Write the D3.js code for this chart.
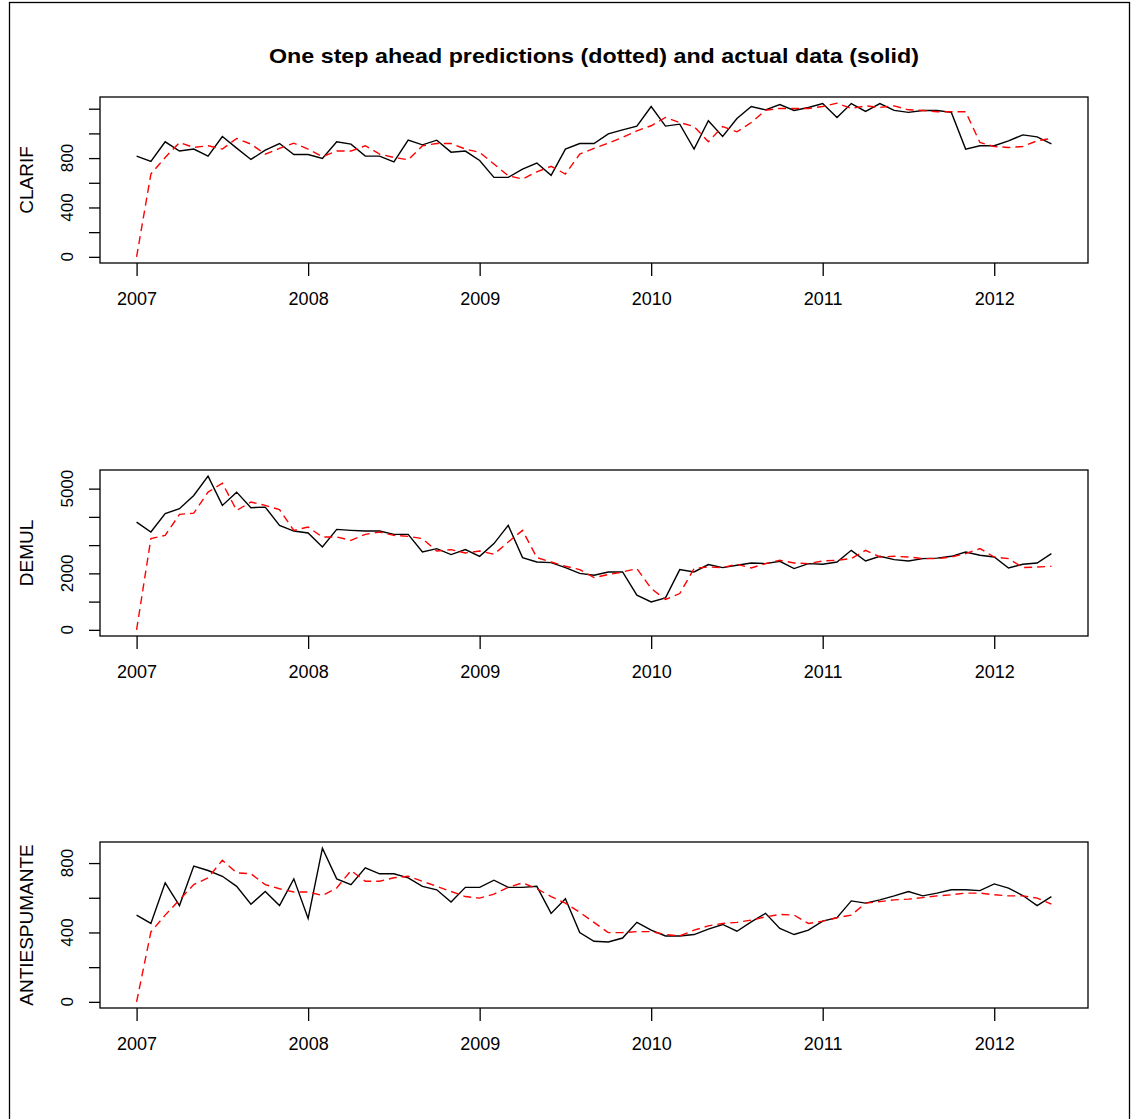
<!DOCTYPE html>
<html>
<head>
<meta charset="utf-8">
<script src="https://cdn.jsdelivr.net/npm/d3@7"></script>
<style>
  body { margin: 0; background: #fff; }
  svg text { font-family: "Liberation Sans", Arial, sans-serif; fill: #000; }
</style>
</head>
<body>
<div class="chart"></div>
<script>
// monthly series, Jan 2007 .. May 2012 (65 months)
var startYear = 2007;
var yearTicks = [2007, 2008, 2009, 2010, 2011, 2012];

var clarifActual = [816, 773, 932, 857, 873, 816, 975, 881, 789, 864, 918, 829,
    829, 797, 932, 913, 816, 816, 770, 945, 907, 945, 848, 857,
    781, 644, 644, 711, 760, 660, 873, 918, 918, 996, 1029, 1059,
    1218, 1059, 1075, 873, 1102, 975, 1121, 1218, 1191, 1234, 1186, 1210,
    1242, 1129, 1242, 1178, 1242, 1186, 1170, 1186, 1186, 1170, 873, 900,
    900, 940, 988, 972, 916];
var clarifPred = [0, 671, 805, 926, 886, 900, 873, 959, 913, 832, 878, 921,
    873, 811, 857, 857, 900, 832, 805, 786, 900, 918, 918, 873,
    846, 752, 657, 630, 689, 733, 671, 832, 878, 921, 967, 1021,
    1062, 1129, 1088, 1056, 932, 1056, 1013, 1088, 1188, 1202, 1202, 1202,
    1218, 1245, 1202, 1223, 1210, 1223, 1191, 1186, 1175, 1175, 1175, 926,
    894, 886, 894, 940, 959];
var clarifTicks = [0, 200, 400, 600, 800, 1000, 1200];
var clarifLabels = [0, 400, 800];

var demulActual = [3816, 3463, 4113, 4290, 4760, 5442, 4406, 4876, 4325, 4346, 3700, 3498,
    3428, 2933, 3558, 3523, 3498, 3498, 3382, 3382, 2756, 2876, 2664, 2841,
    2604, 3053, 3700, 2558, 2403, 2381, 2205, 2000, 1933, 2049, 2049, 1226,
    989, 1131, 2134, 2049, 2311, 2205, 2286, 2367, 2346, 2428, 2170, 2346,
    2322, 2403, 2816, 2438, 2604, 2488, 2438, 2523, 2540, 2604, 2756, 2640,
    2580, 2191, 2322, 2367, 2700];
var demulPred = [0, 3230, 3346, 4088, 4134, 4876, 5194, 4230, 4523, 4406, 4254, 3523,
    3640, 3286, 3286, 3170, 3382, 3463, 3346, 3311, 3230, 2792, 2841, 2721,
    2792, 2675, 3110, 3523, 2558, 2403, 2251, 2134, 1851, 1958, 2049, 2170,
    1463, 1074, 1286, 2170, 2226, 2205, 2322, 2191, 2346, 2463, 2367, 2346,
    2438, 2463, 2523, 2816, 2580, 2604, 2580, 2523, 2523, 2580, 2700, 2876,
    2580, 2523, 2205, 2226, 2251];
var demulTicks = [0, 1000, 2000, 3000, 4000, 5000];
var demulLabels = [0, 2000, 5000];

var antiActual = [500, 452, 686, 555, 783, 757, 724, 666, 563, 636, 555, 709,
    481, 886, 709, 676, 773, 738, 738, 715, 666, 646, 575, 660,
    660, 701, 660, 660, 666, 510, 594, 399, 349, 345, 368, 458,
    413, 380, 380, 388, 419, 446, 407, 461, 510, 423, 388, 413,
    465, 485, 582, 569, 588, 611, 636, 611, 627, 646, 646, 641,
    680, 656, 613, 555, 607];
var antiPred = [0, 403, 500, 588, 676, 715, 816, 744, 738, 676, 652, 633,
    633, 613, 656, 757, 695, 695, 715, 724, 695, 666, 636, 607,
    598, 621, 660, 686, 652, 607, 569, 516, 458, 399, 399, 405,
    405, 388, 380, 413, 438, 452, 458, 471, 490, 504, 500, 452,
    465, 485, 500, 569, 578, 588, 592, 601, 611, 617, 627, 627,
    617, 611, 611, 598, 563];
var antiTicks = [0, 200, 400, 600, 800];
var antiLabels = [0, 400, 800];

var panels = [
    {name: "CLARIF", actual: clarifActual, pred: clarifPred, ticks: clarifTicks, labels: clarifLabels},
    {name: "DEMUL", actual: demulActual, pred: demulPred, ticks: demulTicks, labels: demulLabels},
    {name: "ANTIESPUMANTE", actual: antiActual, pred: antiPred, ticks: antiTicks, labels: antiLabels}
];

var width = 1131, height = 1119;
var left = 100, right = 1088;
var panelTops = [97, 470, 842];
var panelHeight = 166;

var svg = d3.select("div.chart").append("svg")
    .attr("width", width)
    .attr("height", height);

// outer frame
svg.append("rect")
    .attr("x", 9.5).attr("y", 2.5)
    .attr("width", 1120).attr("height", 1140)
    .attr("fill", "none").attr("stroke", "#000").attr("stroke-width", 1.3);

svg.append("text")
    .attr("x", 594).attr("y", 63)
    .attr("text-anchor", "middle")
    .attr("font-size", 21).attr("font-weight", "bold")
    .attr("textLength", 650).attr("lengthAdjust", "spacingAndGlyphs")
    .text("One step ahead predictions (dotted) and actual data (solid)");

// R style 4% extension of the time range
var n = clarifActual.length;
var tEnd = startYear + (n - 1) / 12;
var tPad = (tEnd - startYear) * 0.04;
var x = d3.scaleLinear()
    .domain([startYear - tPad, tEnd + tPad])
    .range([left, right]);

panels.forEach(function (p, k) {
    var top = panelTops[k];
    var bottom = top + panelHeight;
    var all = p.actual.concat(p.pred);
    var lo = d3.min(all), hi = d3.max(all);
    var pad = (hi - lo) * 0.04;
    var y = d3.scaleLinear().domain([lo - pad, hi + pad]).range([bottom, top]);

    var g = svg.append("g").attr("class", "panel");

    // y axis: ticks only, vertical labels
    var yAxis = g.append("g")
        .attr("transform", "translate(" + left + ",0)")
        .call(d3.axisLeft(y).tickValues(p.ticks).tickSize(11).tickFormat(""));
    yAxis.select(".domain").remove();
    yAxis.selectAll("line").attr("stroke", "#000").attr("stroke-width", 1.3);

    g.selectAll("text.ylab").data(p.labels).enter()
        .append("text")
        .attr("class", "ylab")
        .attr("transform", function (d) { return "translate(73," + y(d) + ") rotate(-90)"; })
        .attr("text-anchor", "middle")
        .attr("font-size", 17)
        .text(function (d) { return d; });

    // x axis
    var xAxis = g.append("g")
        .attr("transform", "translate(0," + bottom + ")")
        .call(d3.axisBottom(x).tickValues(yearTicks).tickSize(13).tickFormat(d3.format("d")));
    xAxis.select(".domain").remove();
    xAxis.selectAll("line").attr("stroke", "#000").attr("stroke-width", 1.3);
    xAxis.selectAll("text")
        .attr("y", 42).attr("dy", 0)
        .attr("font-size", 18)
        .attr("fill", "#000");

    // series title
    g.append("text")
        .attr("transform", "translate(33," + (top + panelHeight / 2) + ") rotate(-90)")
        .attr("text-anchor", "middle")
        .attr("font-size", 19)
        .text(p.name);

    var line = d3.line()
        .x(function (d, i) { return x(startYear + i / 12); })
        .y(function (d) { return y(d); });

    g.append("path")
        .attr("d", line(p.actual))
        .attr("fill", "none")
        .attr("stroke", "#000")
        .attr("stroke-width", 1.4);

    g.append("path")
        .attr("d", line(p.pred))
        .attr("fill", "none")
        .attr("stroke", "#ff0000")
        .attr("stroke-width", 1.4)
        .attr("stroke-dasharray", "8,5");

    // plot box
    g.append("rect")
        .attr("x", left).attr("y", top)
        .attr("width", right - left).attr("height", panelHeight)
        .attr("fill", "none")
        .attr("stroke", "#000")
        .attr("stroke-width", 1.3);
});
</script>
</body>
</html>
